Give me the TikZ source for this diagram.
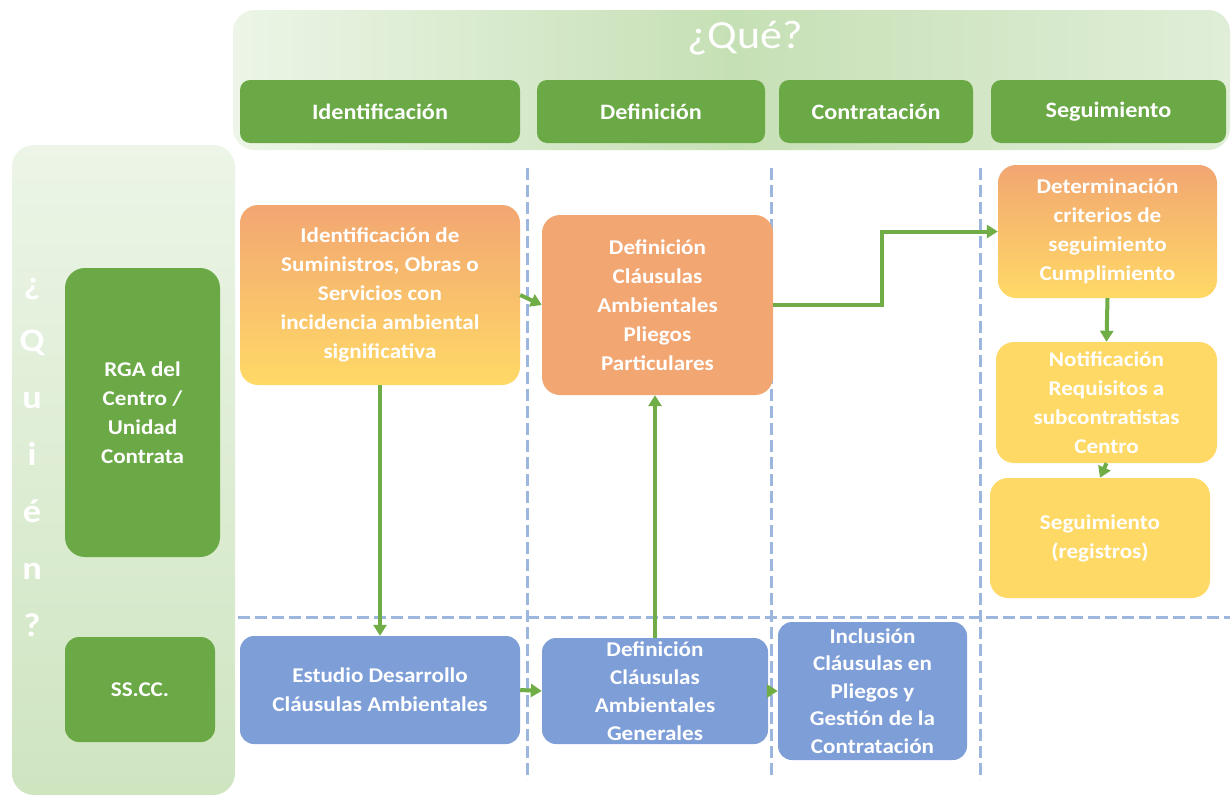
\documentclass[tikz,border=0pt]{standalone}
\usepackage{fontspec}
\setmainfont{Carlito}[FakeStretch=1.1]
\usetikzlibrary{arrows.meta,calc}
\definecolor{hgreen}{HTML}{6AA946}
\definecolor{agreen}{HTML}{70AD47}
\definecolor{orng}{HTML}{F2A672}
\definecolor{yel}{HTML}{FFD966}
\definecolor{blu}{HTML}{7E9ED8}
\definecolor{dash}{HTML}{9DB6E0}
\definecolor{pl}{HTML}{ECF5E7}
\definecolor{pm}{HTML}{C6E0B5}
\definecolor{pr}{HTML}{E0EED8}
\tikzset{
  base/.style={rounded corners=18pt, text=white, align=center, inner sep=0pt,
    font=\bfseries\fontsize{21}{29}\selectfont},
  hbox/.style={base, fill=hgreen, rounded corners=10pt, minimum height=63pt,
    font=\bfseries\fontsize{22}{29}\selectfont},
  wbox/.style={base, fill=hgreen, rounded corners=20pt},
  obox/.style={base, fill=orng},
  gbox/.style={base, top color=orng, bottom color=yel},
  ybox/.style={base, fill=yel},
  bbox/.style={base, fill=blu, rounded corners=14pt},
  arr/.style={draw=agreen, line width=4pt, -{Triangle[length=11pt,width=13pt]}},
  sep/.style={draw=dash, line width=3pt, dash pattern=on 12pt off 5pt}
}
\begin{document}
\begin{tikzpicture}[x=1pt,y=-1pt]
\useasboundingbox (0,0) rectangle (1232,798);
\fill[white] (0,0) rectangle (1232,798);
% panels
\shade[rounded corners=22pt, left color=pl, right color=pr, middle color=pm] (233,10) rectangle (1230,150);
\node[font=\fontsize{40}{42}\selectfont, text=white] (que) at (745,38) {¿Qué?};
\shade[rounded corners=22pt, top color=pl, bottom color=pm!85!white] (12,145) rectangle (235,795);
\node[font=\bfseries\fontsize{33}{57}\selectfont, text=white, align=center] (quien) at (32,457) {¿\\Q\\u\\i\\é\\n\\?};
% headers
\node[hbox, minimum width=280pt] (h1) at (380,111.5) {Identificación};
\node[hbox, minimum width=228pt] (h2) at (651,111.5) {Definición};
\node[hbox, minimum width=194pt] (h3) at (876,111.5) {Contratación};
\node[hbox, minimum width=235pt] (h4) at (1108.5,111.5) {Seguimiento};
% who
\node[wbox, minimum width=155pt, minimum height=289pt] (rga) at (142.5,412.5) {RGA del\\Centro /\\Unidad\\Contrata};
\node[wbox, minimum width=150pt, minimum height=105pt, rounded corners=14pt] (sscc) at (140,689.5) {SS.CC.};
% separators
\draw[sep] (527,168) -- (527,780);
\draw[sep] (771,168) -- (771,775);
\draw[sep] (980,168) -- (980,780);
\draw[sep] (238,617) -- (1230,617);
% process boxes
\node[gbox, minimum width=280pt, minimum height=180pt] (b1) at (380,295) {Identificación de\\Suministros, Obras o\\Servicios con\\incidencia ambiental\\significativa};
\node[obox, minimum width=231pt, minimum height=180pt] (b2) at (657.5,305) {Definición\\Cláusulas\\Ambientales\\Pliegos\\Particulares};
\node[gbox, minimum width=219pt, minimum height=133pt] (det) at (1107.5,231.5) {Determinación\\criterios de\\seguimiento\\Cumplimiento};
\node[ybox, minimum width=221pt, minimum height=121pt] (noti) at (1106.5,402.5) {Notificación\\Requisitos a\\subcontratistas\\Centro};
\node[ybox, minimum width=220pt, minimum height=120pt] (segr) at (1100,538) {Seguimiento\\(registros)};
\node[bbox, minimum width=280pt, minimum height=108pt] (est) at (380,690) {Estudio Desarrollo\\Cláusulas Ambientales};
\node[bbox, minimum width=226pt, minimum height=106pt, font=\bfseries\fontsize{21}{28}\selectfont] (defg) at (655,691) {Definición\\Cláusulas\\Ambientales\\Generales};
\node[bbox, minimum width=189pt, minimum height=138pt, font=\bfseries\fontsize{21}{27.5}\selectfont] (incl) at (872.5,691) {Inclusión\\Cláusulas en\\Pliegos y\\Gestión de la\\Contratación};
% connectors
\draw[arr] (b1.east) -- (b2.west);
\draw[arr] (b1.south) -- (est.north);
\draw[arr] (b2.east) -- ([xshift=109pt]b2.east) |- (det.west);
\draw[arr] (defg.north) -- (defg.north |- b2.south);
\draw[arr] (det.south) -- (noti.north);
\draw[arr] (noti.south) -- (segr.north);
\draw[arr] (est.east) -- (defg.west);
\draw[arr] (defg.east) -- (incl.west);
\end{tikzpicture}
\end{document}
